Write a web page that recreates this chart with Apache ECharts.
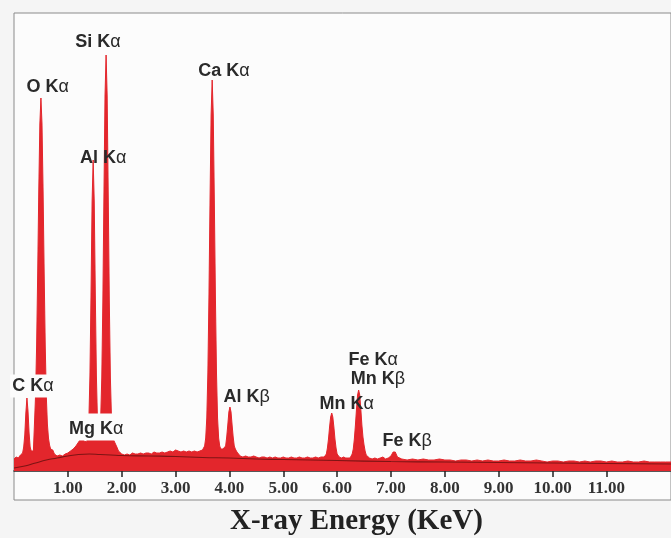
<!DOCTYPE html>
<html><head><meta charset="utf-8">
<script src="https://cdn.jsdelivr.net/npm/echarts@6/dist/echarts.min.js"></script>
<style>html,body{margin:0;padding:0;background:#f5f5f5}#c{width:671px;height:538px}</style>
</head><body><div id="c"></div>
<script>
// Tick positions (keV)
const energyTicks = [1, 2, 3, 4, 5, 6, 7, 8, 9, 10, 11];

// Measured spectrum: [energy keV, counts (arb.)]
const spectrum = [
  [0.00,12],[0.04,14],[0.08,13],[0.12,16],[0.16,18],
  [0.18,24],[0.20,36],[0.22,58],[0.24,73],[0.26,60],[0.28,38],[0.30,24],[0.32,20],[0.34,18],[0.36,20],
  [0.38,47],[0.40,75],[0.42,125],[0.44,198],[0.46,280],[0.48,347],[0.50,373],[0.52,347],[0.54,280],[0.56,198],[0.58,125],[0.60,75],[0.62,47],[0.64,33],[0.66,26],
  [0.68,22],[0.70,24],[0.72,21],[0.75,17],[0.80,15],[0.85,16],[0.90,15],[0.95,17],[1.00,18],[1.05,20],[1.10,22],[1.15,25],[1.20,29],[1.25,33],[1.30,30],[1.35,29],
  [1.37,35],[1.39,50],[1.41,95],[1.43,176],[1.45,269],[1.47,311],[1.49,269],[1.51,176],[1.53,95],[1.55,50],[1.57,35],
  [1.59,37],[1.61,53],[1.63,93],[1.65,169],[1.67,275],[1.69,375],[1.71,416],[1.73,375],[1.75,275],[1.77,169],[1.79,93],[1.81,53],[1.83,37],[1.85,31],[1.88,29],[1.91,24],[1.94,20],[1.97,18],
  [2.00,17],[2.05,16],[2.10,17],[2.15,16],[2.20,18],[2.25,17],[2.30,17],[2.35,18],[2.40,17],[2.45,18],[2.50,18],[2.55,17],[2.60,19],[2.65,18],[2.70,18],[2.75,19],[2.80,18],[2.85,19],[2.90,20],[2.95,19],
  [3.00,21],[3.05,20],[3.10,19],[3.15,20],[3.20,19],[3.25,20],[3.30,19],[3.35,20],[3.40,19],[3.45,20],[3.50,21],
  [3.54,25],[3.56,33],[3.58,53],[3.60,98],[3.62,174],[3.64,270],[3.66,356],[3.68,391],[3.70,356],[3.72,270],[3.74,174],[3.76,98],[3.78,53],[3.80,33],[3.82,25],[3.84,22],[3.86,21],[3.88,22],
  [3.91,22],[3.93,25],[3.95,34],[3.97,46],[3.99,59],[4.01,64],[4.03,59],[4.05,46],[4.07,34],[4.09,25],[4.11,22],[4.14,19],[4.17,17],
  [4.20,15],[4.25,14],[4.30,15],[4.35,14],[4.40,14],[4.45,15],[4.50,14],[4.55,13],[4.60,14],[4.65,14],[4.70,13],[4.75,14],[4.80,13],[4.85,14],[4.90,13],[4.95,13],
  [5.00,14],[5.05,13],[5.10,13],[5.15,14],[5.20,13],[5.25,13],[5.30,14],[5.35,13],[5.40,13],[5.45,14],[5.50,13],[5.55,13],[5.60,14],[5.65,13],[5.70,14],
  [5.76,14],[5.78,15],[5.80,17],[5.82,23],[5.84,32],[5.86,44],[5.88,54],[5.90,58],[5.92,54],[5.94,44],[5.96,32],[5.98,23],[6.00,17],[6.02,15],[6.04,14],
  [6.08,13],[6.12,14],[6.16,13],[6.20,13],[6.24,13],
  [6.26,14],[6.28,17],[6.30,22],[6.32,32],[6.34,46],[6.36,62],[6.38,76],[6.40,81],[6.42,76],[6.44,62],[6.46,46],[6.48,34],[6.50,26],[6.52,20],[6.54,16],[6.56,14],
  [6.60,13],[6.65,12],[6.70,13],[6.75,12],[6.80,13],[6.85,14],[6.90,12],[6.95,13],[6.98,13],
  [7.00,15],[7.02,17],[7.04,19],[7.06,20],[7.08,19],[7.10,17],[7.12,14],[7.15,12],
  [7.20,12],[7.30,11],[7.40,12],[7.50,11],[7.60,12],[7.70,11],[7.80,11],[7.90,12],[8.00,11],[8.10,11],[8.20,10],[8.30,11],[8.40,11],[8.50,10],[8.60,11],[8.70,10],[8.80,11],[8.90,10],
  [9.00,10],[9.10,11],[9.20,10],[9.30,10],[9.40,11],[9.50,10],[9.60,10],[9.70,11],[9.80,10],[9.90,9],[10.00,10],[10.10,10],[10.20,9],[10.30,10],[10.40,10],[10.50,9],[10.60,10],[10.70,9],[10.80,10],[10.90,10],
  [11.00,9],[11.10,10],[11.20,9],[11.30,9],[11.40,10],[11.50,9],[11.60,9],[11.70,10],[11.80,9],[11.90,9],[12.00,9],[12.10,9],[12.20,9]
];

// Fitted continuum (background) curve
const continuum = [
  [0,3],[0.2,5],[0.4,8],[0.6,11],[0.8,13],[1.0,15],[1.2,16.5],[1.4,17],[1.6,16.5],[1.8,16],[2.0,15.5],[2.5,15],[3.0,14.5],[3.5,13.5],
  [4.0,13],[4.5,12],[5.0,11.5],[5.5,11],[6.0,10.5],[7.0,9.5],[8.0,9],[9.0,8.5],[10.0,8],[11.0,7.5],[12.2,7]
];

// Peak annotations
const peakLabels  = ['Si Kα','O Kα','Ca Kα','Al Kα','C Kα','Mg Kα','Al Kβ','Mn Kα','Fe Kα','Mn Kβ','Fe Kβ'];
const labelEnergy = [1.56, 0.625, 3.90, 1.655, 0.35, 1.526, 4.32, 6.18, 6.67, 6.76, 7.30];
const labelCount  = [429, 384, 400, 313, 85, 44, 74, 67, 111, 92, 30];

const RED = '#e3262c';
const boxed = {'C Kα': [3,2,2,2], 'Mg Kα': [7,2,2,2]};
const TXT = '#2a2a2a';

const chart = echarts.init(document.getElementById('c'));
chart.setOption({
  backgroundColor: '#f5f5f5',
  animation: false,
  title: {
    text: 'X-ray Energy (KeV)', left: 230, top: 507, padding: 0,
    textStyle: {fontFamily: 'Liberation Serif', fontWeight: 'bold', fontSize: 29, color: '#222'}
  },
  grid: {left: 14, top: 13, width: 664, bottom: 38, show: true, backgroundColor: '#fcfcfc', borderColor: '#8a8a8a', borderWidth: 1},
  xAxis: {
    type: 'value', min: 0, max: 12.2, interval: 1, offset: -29,
    axisLine: {lineStyle: {color: '#222', width: 1.5}},
    axisTick: {customValues: energyTicks, length: 6, lineStyle: {color: '#222', width: 1.5}},
    axisLabel: {
      customValues: energyTicks, margin: 9,
      formatter: v => (v < 0.5 || v > 11.5) ? '' : v.toFixed(2),
      fontFamily: 'Liberation Serif', fontWeight: 'bold', fontSize: 17, color: '#333'
    },
    splitLine: {show: false}
  },
  yAxis: {type: 'value', min: -29, max: 458, show: false},
  series: [
    {
      type: 'line', data: spectrum, symbol: 'none', silent: true, z: 2,
      lineStyle: {color: RED, width: 1}, areaStyle: {color: RED, opacity: 1}
    },
    {
      type: 'line', data: continuum, smooth: true, symbol: 'none', silent: true, z: 3,
      lineStyle: {color: '#7d1414', width: 1.2}
    },
    {
      type: 'scatter', symbolSize: 0, silent: true, z: 5, clip: false,
      itemStyle: {color: 'rgba(0,0,0,0)', opacity: 1},
      data: peakLabels.map((n, i) => ({
        name: n, value: [labelEnergy[i], labelCount[i]],
        label: boxed[n] ? {backgroundColor: '#fcfcfc', padding: boxed[n]} : {}
      })),
      label: {
        show: true, position: 'inside', opacity: 1, color: TXT,
        textBorderWidth: 0, textShadowBlur: 0,
        formatter: p => '{e|' + p.name.slice(0, -1) + '}{g|' + p.name.slice(-1) + '}',
        rich: {
          e: {fontFamily: 'Liberation Sans', fontWeight: 'bold', fontSize: 18, color: TXT, textBorderWidth: 0},
          g: {fontFamily: 'Liberation Sans', fontWeight: 'normal', fontSize: 18, color: TXT, textBorderWidth: 0}
        }
      }
    }
  ]
});
</script></body></html>
